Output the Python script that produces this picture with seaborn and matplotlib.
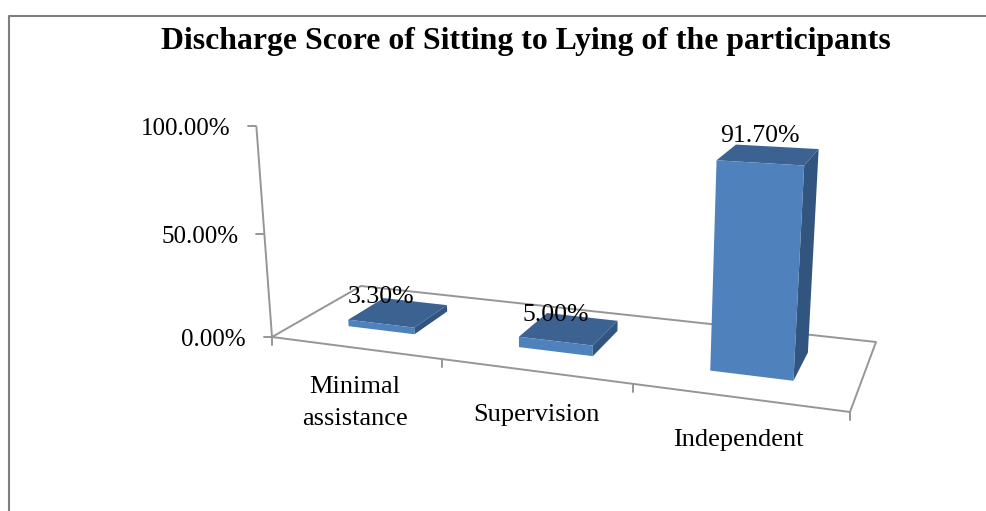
import numpy as np
import pandas as pd
import seaborn as sns
import matplotlib.pyplot as plt
from matplotlib.patches import Polygon
from matplotlib.transforms import Transform

categories = ['Minimal\nassistance', 'Supervision', 'Independent']
scores = [3.3, 5.0, 91.7]
score_labels = ['3.30%', '5.00%', '91.70%']
value_ticks = [0, 50, 100]
value_tick_labels = ['0.00%', '50.00%', '100.00%']

W, H = 987, 511
FRONT, TOP, SIDE = '#4F81BD', '#3C6291', '#32557F'
GREY = '#969696'

sns.set_theme(style='white')
plt.rcParams['font.family'] = ['Liberation Serif', 'DejaVu Serif']

# camera of the fake 3D chart, worked out from the floor corners (pixels, y down)
floor_from = [(-0.5, 0), (2.5, 0), (2.5, 1), (-0.5, 1)]
floor_to = [(272, 337), (850, 412), (876, 342), (361, 286)]
A, b = [], []
for (x, d), (px, py) in zip(floor_from, floor_to):
    A.append([x, d, 1, 0, 0, 0, -px * x, -px * d])
    A.append([0, 0, 0, x, d, 1, -py * x, -py * d])
    b += [px, py]
hom = np.append(np.linalg.solve(np.array(A, float), np.array(b, float)), 1).reshape(3, 3)
vanish = np.array([585.0, 4560.0, 1.0])  # verticals meet far below the chart
w0 = hom[2] @ np.array([-0.5, 0, 1])
z_scale = -0.0475 * w0 / 100  # makes 100% land on the top tick of the axis


def project(x, z, d):
    x, z, d = np.broadcast_arrays(np.asarray(x, float), np.asarray(z, float), np.asarray(d, float))
    floor = np.stack([x, d, np.ones_like(x)], axis=-1) @ hom.T
    p = floor + (z * z_scale)[..., None] * vanish
    return p[..., 0] / p[..., 2], H - p[..., 1] / p[..., 2]


class Depth(Transform):
    # (category, value) at a fixed depth -> pixels
    input_dims = output_dims = 2

    def __init__(self, d):
        super().__init__()
        self.d = d

    def transform_non_affine(self, xy):
        xy = np.asarray(xy, float)
        return np.column_stack(project(xy[:, 0], xy[:, 1], self.d))


fig = plt.figure(figsize=(W / 100, H / 100), dpi=100)
ax = fig.add_axes([0, 0, 1, 1])

df = pd.DataFrame({'category': categories, 'score': scores})
sns.barplot(data=df, x='category', y='score', color=FRONT, saturation=1, width=0.4, ax=ax, zorder=5)
ax.set_xlim(0, W)
ax.set_ylim(0, H)
ax.axis('off')
ax.patch.set_alpha(0)

d_front, d_back = 0.3, 0.72
overlay = fig.add_axes([0, 0, 1, 1], zorder=-1)
overlay.set_xlim(0, W)
overlay.set_ylim(0, H)
overlay.axis('off')
to_px = overlay.transData


def pline(xs, zs, ds, **kw):
    px, py = project(xs, zs, ds)
    overlay.plot(px, py, color=GREY, lw=1.4, solid_capstyle='butt', **kw)


# floor and value axis
pline([-0.5, 2.5, 2.5, -0.5, -0.5], 0, [0, 0, 1, 1, 0])
pline([-0.5, -0.5], [0, 100], 0)
for v, lab in zip(value_ticks, value_tick_labels):
    px, py = project(-0.5, v, 0)
    overlay.plot([px - 8, px], [py, py], color=GREY, lw=1.4)
    overlay.text(px - 26, py - 3, lab, ha='right', va='center', fontsize=18, color='black')
for x in [-0.5, 0.5, 1.5, 2.5]:
    px, py = project(x, 0, 0)
    overlay.plot([px, px], [py, py - 8], color=GREY, lw=1.4)

# bars: the seaborn rectangles become the front faces, sides and tops follow them
for bar, lab in zip(ax.patches, score_labels):
    x0, x1 = bar.get_x(), bar.get_x() + bar.get_width()
    z = bar.get_height()
    bar.set_transform(Depth(d_front) + to_px)
    bar.set_edgecolor('none')
    top = np.column_stack(project([x0, x1, x1, x0], z, [d_front, d_front, d_back, d_back]))
    side = np.column_stack(project([x1, x1, x1, x1], [0, z, z, 0], [d_front, d_front, d_back, d_back]))
    ax.add_patch(Polygon(top, color=TOP, lw=0, transform=to_px, zorder=4))
    ax.add_patch(Polygon(side, color=SIDE, lw=0, transform=to_px, zorder=4))
    px, py = project((x0 + x1) / 2, z, d_front)
    ax.text(px, py + 26.5, lab, ha='center', va='center', fontsize=18.5, color='black', zorder=6, transform=to_px)

# category labels sit under the front edge
label_pos = [(355, 108), (536, 96), (738, 71)]
for lab, (px, py) in zip(categories, label_pos):
    overlay.text(px, py, lab, ha='center', va='center', fontsize=19, linespacing=1.53, color='black')

overlay.text(526, H - 41, 'Discharge Score of Sitting to Lying of the participants',
             ha='center', va='center', fontsize=22.9, fontweight='bold', color='black')

# picture frame
overlay.plot([8.5, 8.5, W], [0, H - 15.5, H - 15.5], color='#7F7F7F', lw=1.5)

fig.savefig('out.png', dpi=100)
